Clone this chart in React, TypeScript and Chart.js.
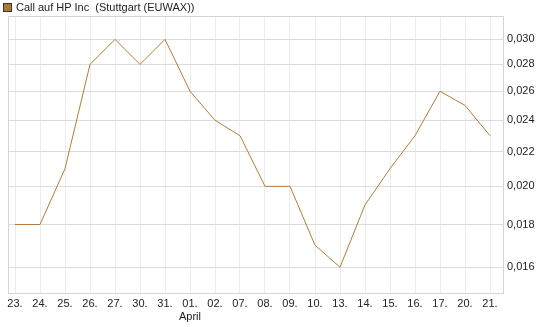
import React, { useEffect, useRef } from "react";
import { Chart, registerables } from "chart.js";

Chart.register(...registerables);

const categories = ["23.", "24.", "25.", "26.", "27.", "30.", "31.", "01.", "02.", "07.", "08.", "09.", "10.", "13.", "14.", "15.", "16.", "17.", "20.", "21."];
const monthLabels: Record<number, string> = { 7: "April" };
const values = [0.018, 0.018, 0.021, 0.028, 0.030, 0.028, 0.030, 0.026, 0.024, 0.023, 0.020, 0.020, 0.017, 0.016, 0.019, 0.021, 0.023, 0.026, 0.025, 0.023];
const yTicks = [0.016, 0.018, 0.020, 0.022, 0.024, 0.026, 0.028, 0.030];
const seriesName = "Call auf HP Inc  (Stuttgart (EUWAX))";

const LINE = "#b07d3a";

export default function App() {
  const ref = useRef<HTMLCanvasElement>(null);
  useEffect(() => {
    const canvas = ref.current!;
    const borderPlugin = {
      id: "frame",
      afterDraw(chart: any) {
        const { ctx, chartArea: a } = chart;
        ctx.save();
        ctx.strokeStyle = "#d4d4d4";
        ctx.lineWidth = 1;
        ctx.strokeRect(Math.round(a.left) + 0.5, Math.round(a.top) + 0.5, Math.round(a.right - a.left), Math.round(a.bottom - a.top));
        ctx.restore();
      },
    };
    const chart = new Chart(canvas, {
      type: "line",
      data: {
        datasets: [
          {
            label: seriesName,
            data: values.map((v, i) => ({ x: i, y: v })),
            borderColor: LINE,
            backgroundColor: LINE,
            borderWidth: 1,
            pointRadius: 0,
            tension: 0,
          },
        ],
      },
      options: {
        animation: false,
        responsive: false,
        events: [],
        layout: { padding: { left: 8, top: 16, right: 0, bottom: 0 } },
        plugins: { legend: { display: false }, tooltip: { enabled: false } },
        scales: {
          x: {
            type: "linear",
            min: -0.28,
            max: 19.52,
            afterBuildTicks(scale: any) {
              scale.ticks = categories.map((_, i) => ({ value: i }));
            },
            afterFit(scale: any) {
              scale.height = 34;
            },
            grid: { color: "#ececec", drawTicks: false },
            border: { display: false },
            ticks: {
              autoSkip: false,
              maxRotation: 0,
              padding: 4,
              color: "#222",
              font: { family: "Liberation Sans, Arial, sans-serif", size: 11 },
              callback: (v: any) => {
                const i = Math.round(Number(v));
                return monthLabels[i] ? [categories[i], monthLabels[i]] : categories[i];
              },
            },
          },
          y: {
            type: "logarithmic",
            position: "right",
            min: 0.0149,
            max: 0.032,
            afterBuildTicks(scale: any) {
              scale.ticks = yTicks.map((v) => ({ value: v }));
            },
            afterFit(scale: any) {
              scale.width = 42;
            },
            grid: { color: "#dcdcdc", drawTicks: false },
            border: { display: false },
            ticks: {
              padding: 4,
              color: "#222",
              font: { family: "Liberation Sans, Arial, sans-serif", size: 11 },
              callback: (v: any) => Number(v).toFixed(3).replace(".", ","),
            },
          },
        },
      },
      plugins: [borderPlugin],
    });
    return () => chart.destroy();
  }, []);
  return (
    <div style={{ position: "fixed", left: 0, top: 0, width: 545, height: 327, background: "#fff" }}>
      <canvas ref={ref} width={545} height={327} style={{ position: "absolute", left: 0, top: 0 }} />
      <div
        style={{
          position: "absolute",
          left: 3,
          top: 0,
          height: 14,
          display: "flex",
          alignItems: "center",
          fontFamily: "Liberation Sans, Arial, sans-serif",
          fontSize: 11,
          color: "#222",
          whiteSpace: "pre",
        }}
      >
        <span style={{ display: "inline-block", width: 7, height: 7, background: "#a87a3c", border: "1px solid #333", marginRight: 4 }} />
        {seriesName}
      </div>
    </div>
  );
}
